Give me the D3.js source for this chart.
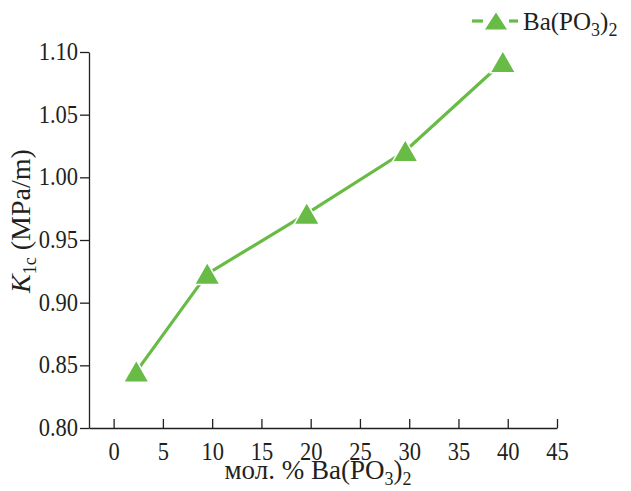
<!DOCTYPE html>
<html>
<head>
<meta charset="utf-8">
<script src="https://cdn.jsdelivr.net/npm/d3@7"></script>
<style>
body { margin: 0; background: #fff; }
text { font-family: "Liberation Serif", "Times New Roman", serif; fill: #231f20; }
</style>
</head>
<body>
<svg width="631" height="491"></svg>
<script>
var svg = d3.select("svg");

// data
let mol_pct = [2.3, 9.5, 19.6, 29.6, 39.5];
let k1c = [0.845, 0.923, 0.971, 1.021, 1.092];
let x_ticks = [0, 5, 10, 15, 20, 25, 30, 35, 40, 45];
let y_ticks = [0.80, 0.85, 0.90, 0.95, 1.00, 1.05, 1.10];

let green = "#68bb45";
let axis_color = "#231f20";
let squeeze = 0.9; // tick numbers are a bit narrower than plain Times

var x = d3.scaleLinear().domain([-2.5, 45]).range([89, 557]);
var y = d3.scaleLinear().domain([0.80, 1.10]).range([428, 52]);

let points = mol_pct.map(function(d, i) { return [d, k1c[i]]; });

// triangle marker centred on its box
function tri(cx, cy, w, h) {
	return "M" + cx + "," + (cy - h / 2) +
		"L" + (cx + w / 2) + "," + (cy + h / 2) +
		"L" + (cx - w / 2) + "," + (cy + h / 2) + "Z";
}

// text with subscripts as tspans: [text, dy, size, italic]
function formula(t, parts, size) {
	t.style("font-size", size + "px");
	parts.forEach(function(p) {
		let s = t.append("tspan").text(p[0]);
		if (p[1]) s.attr("dy", p[1]);
		if (p[2]) s.style("font-size", p[2] + "px");
		if (p[3]) s.style("font-style", "italic");
	});
}

// x axis, ticks pointing up
var xAxis = d3.axisBottom(x)
	.tickValues(x_ticks)
	.tickFormat(d3.format("d"))
	.tickSizeInner(-9)
	.tickSizeOuter(0)
	.tickPadding(14);

let gx = svg.append("g")
	.attr("transform", "translate(0," + y(0.80) + ")")
	.call(xAxis);
gx.select(".domain").attr("stroke", axis_color).attr("stroke-width", 1.3);
gx.selectAll(".tick line").attr("stroke", axis_color).attr("stroke-width", 1.3);
gx.selectAll(".tick text")
	.style("font-size", "25px")
	.attr("fill", axis_color)
	.attr("transform", "scale(" + squeeze + ",1)");

// y axis
var yAxis = d3.axisLeft(y)
	.tickValues(y_ticks)
	.tickFormat(d3.format(".2f"))
	.tickSizeInner(9)
	.tickSizeOuter(0)
	.tickPadding(2);

let gy = svg.append("g")
	.attr("transform", "translate(" + x(-2.5) + ",0)")
	.call(yAxis);
gy.select(".domain").attr("stroke", axis_color).attr("stroke-width", 1.3);
gy.selectAll(".tick line").attr("stroke", axis_color).attr("stroke-width", 1.3);
gy.selectAll(".tick text")
	.style("font-size", "25px")
	.attr("fill", axis_color)
	.attr("x", -11 / squeeze)
	.attr("dy", "0.3em")
	.attr("transform", "scale(" + squeeze + ",1)");

// series line
var line = d3.line()
	.x(function(d) { return x(d[0]); })
	.y(function(d) { return y(d[1]); });

svg.append("path")
	.datum(points)
	.attr("fill", "none")
	.attr("stroke", green)
	.attr("stroke-width", 3.2)
	.attr("d", line);

svg.selectAll(".marker")
	.data(points)
	.enter()
	.append("path")
	.attr("class", "marker")
	.attr("d", function(d) { return tri(x(d[0]), y(d[1]), 23, 20); })
	.attr("fill", green)
	.attr("stroke", "#fff")
	.attr("stroke-width", 3)
	.attr("paint-order", "stroke");

// legend
let leg = svg.append("g").attr("transform", "translate(472,21)");
leg.append("line")
	.attr("x1", 0).attr("x2", 11).attr("y1", 0).attr("y2", 0)
	.attr("stroke", green)
	.attr("stroke-width", 3.2);
leg.append("line")
	.attr("x1", 37).attr("x2", 46).attr("y1", 0).attr("y2", 0)
	.attr("stroke", green)
	.attr("stroke-width", 3.2);
leg.append("path")
	.attr("d", tri(24, 0, 22, 17))
	.attr("fill", green);

let lt = leg.append("text")
	.attr("x", 51)
	.attr("y", 9);
formula(lt, [["Ba(PO"], ["3", 6, 18], [")", -6], ["2", 6, 18]], 25);

// x label
let xl = svg.append("text")
	.attr("x", 318)
	.attr("y", 479)
	.attr("text-anchor", "middle");
formula(xl, [["мол. % Ba(PO"], ["3", 6, 18], [")", -6], ["2", 6, 18]], 27);

// y label
let yl = svg.append("text")
	.attr("transform", "translate(30,221) rotate(-90)")
	.attr("text-anchor", "middle");
formula(yl, [["K", 0, 0, true], ["1c", 6, 18], ["\u00a0(MPa/m)", -6]], 28);
</script>
</body>
</html>
